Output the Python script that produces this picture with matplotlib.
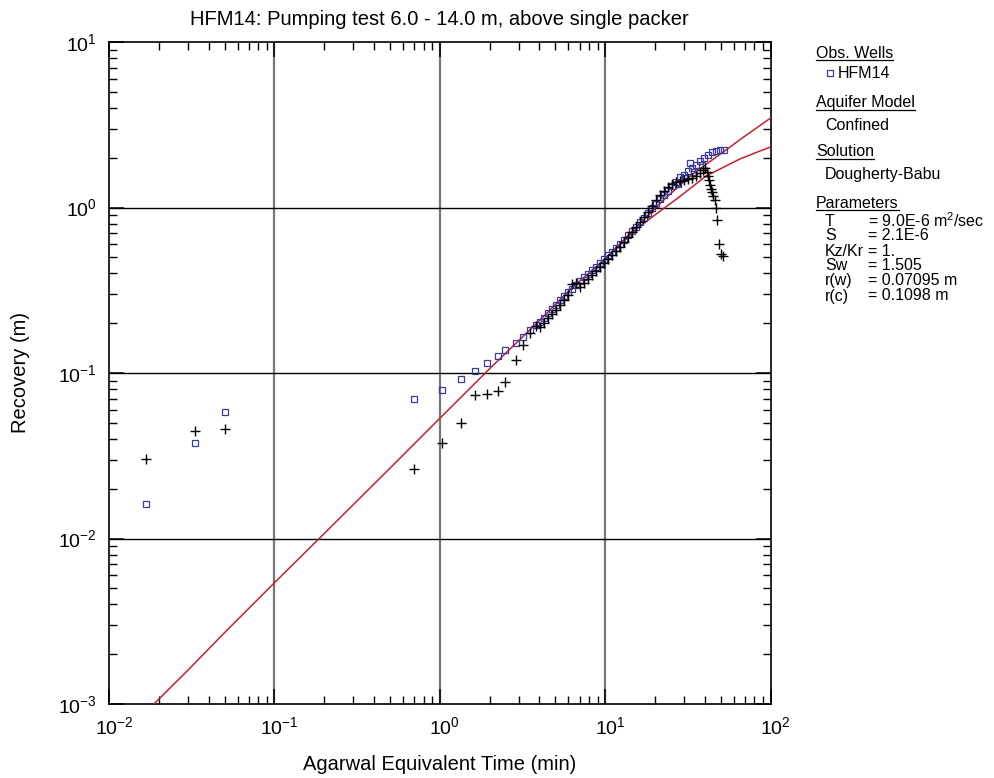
import matplotlib
matplotlib.use("Agg")
import matplotlib.pyplot as plt
from matplotlib.lines import Line2D
import matplotlib.transforms as mtransforms

plt.rcParams['font.family'] = ['Liberation Sans', 'DejaVu Sans']
plt.rcParams['mathtext.fontset'] = 'custom'
plt.rcParams['mathtext.rm'] = 'Liberation Sans'
plt.rcParams['mathtext.it'] = 'Liberation Sans:italic'
plt.rcParams['mathtext.bf'] = 'Liberation Sans:bold'

# observed recovery, HFM14 (squares)
sq_t = [0.0167, 0.0333, 0.05, 0.703, 1.03, 1.35, 1.63, 1.93, 2.26, 2.49, 2.89, 3.20, 3.53, 3.84,
        4.02, 4.25, 4.49, 4.75, 5.02, 5.31, 5.61, 5.93, 6.28, 6.63, 7.01, 7.42, 7.84, 8.29,
        8.76, 9.26, 9.79, 10.35, 10.95, 11.57, 12.24, 12.94, 13.68, 14.46, 15.29, 16.16,
        17.08, 18.06, 19.10, 20.19, 21.35, 22.57, 23.86, 25.22, 26.67, 28.20, 29.81, 31.52,
        33.32, 35.23, 37.24, 39.38, 41.63, 44.01, 46.54, 49.19, 52.0,
        27.4, 30.6, 32.4, 34.3, 38.3]
sq_s = [0.0162, 0.0376, 0.0581, 0.0693, 0.0793, 0.0924, 0.1028, 0.1153, 0.1267, 0.137, 0.152, 0.166, 0.182, 0.196,
        0.203, 0.215, 0.231, 0.244, 0.258, 0.276, 0.292, 0.309, 0.322, 0.340, 0.360, 0.380, 0.397, 0.419,
        0.437, 0.462, 0.489, 0.516, 0.538, 0.569, 0.602, 0.636, 0.682, 0.721, 0.762, 0.817,
        0.865, 0.927, 0.993, 1.05, 1.125, 1.19, 1.26, 1.35, 1.43, 1.53, 1.57, 1.66,
        1.73, 1.81, 1.91, 1.99, 2.08, 2.16, 2.19, 2.23, 2.23,
        1.39, 1.51, 1.86, 1.64, 1.81]

# recovery, second series (crosses)
cr_t = [0.0167, 0.0333, 0.05, 0.703, 1.03, 1.35, 1.63, 1.93, 2.26, 2.49, 2.89, 3.20, 3.53, 3.84,
        4.02, 4.25, 4.49, 4.75, 5.02, 5.31, 5.61, 5.93, 6.28, 6.63, 7.01, 7.42, 7.84, 8.29,
        8.76, 9.26, 9.79, 10.35, 10.95, 11.57, 12.24, 12.94, 13.68, 14.46, 15.29, 16.16,
        17.08, 18.06, 19.10, 20.19, 21.35, 22.57, 23.86, 25.22, 26.67, 28.20, 29.81, 31.52,
        33.32, 35.23, 37.24, 38.8, 39.9, 41.1, 41.6, 42.2, 42.8, 43.4, 44.0, 44.6, 45.9,
        46.5, 47.2, 48.5, 49.9, 51.3]
cr_s = [0.0303, 0.0448, 0.0461, 0.0262, 0.0376, 0.0497, 0.0736, 0.0747, 0.078, 0.0879, 0.12, 0.148, 0.175, 0.192,
        0.190, 0.200, 0.215, 0.227, 0.240, 0.258, 0.276, 0.296, 0.345, 0.350, 0.331, 0.350, 0.370, 0.391,
        0.413, 0.437, 0.462, 0.489, 0.516, 0.546, 0.577, 0.619, 0.663, 0.711, 0.762, 0.817,
        0.877, 0.940, 1.02, 1.11, 1.19, 1.26, 1.33, 1.39, 1.43, 1.45, 1.47, 1.49,
        1.51, 1.55, 1.62, 1.69, 1.73, 1.64, 1.55, 1.47, 1.37, 1.29, 1.24, 1.17, 1.11,
        0.993, 0.840, 0.602, 0.524, 0.509]

# Dougherty-Babu type curves
fit_t = [0.017, 0.03, 0.05, 0.1, 0.2, 0.5, 1.0, 2.0, 4.0, 6.25, 10.0, 16.0, 23.0, 34.0, 54.0, 65.0, 100.0]
fit_s = [0.00091, 0.0016, 0.0027, 0.0054, 0.0107, 0.0266, 0.0532, 0.106, 0.207, 0.325, 0.49, 0.79, 1.13, 1.6, 2.23, 2.56, 3.47]
fit2_t = [10.0, 16.1, 21.3, 28.2, 40.8, 65.0, 84.9, 100.0]
fit2_s = [0.49, 0.766, 0.944, 1.162, 1.55, 1.96, 2.18, 2.32]

par_names = ['T', 'S', 'Kz/Kr', 'Sw', 'r(w)', 'r(c)']
par_vals = ['= 9.0E-6 m$^2$/sec', '= 2.1E-6', '= 1.', '= 1.505', '= 0.07095 m', '= 0.1098 m']

W, H = 995, 778
fig = plt.figure(figsize=(W / 100, H / 100), dpi=100)
ax = fig.add_axes([109 / W, 1 - 704 / H, (770.5 - 109) / W, (704 - 42) / H])
ax.set_xscale('log')
ax.set_yscale('log')
ax.set_xlim(1e-2, 1e2)
ax.set_ylim(1e-3, 1e1)

for v in [1e-1, 1e0, 1e1]:
    ax.axvline(v, color='#777777', lw=1.6, zorder=1)
for v in [1e-2, 1e-1, 1e0]:
    ax.axhline(v, color='black', lw=1.0, zorder=1)

red = '#c8202c'
ax.plot(fit_t, fit_s, color=red, lw=1.1, zorder=3)
ax.plot(fit2_t, fit2_s, color=red, lw=1.1, zorder=3)
ax.plot(sq_t, sq_s, ls='none', marker='s', ms=4.5, mfc='none', mec='#3b3b9e', mew=0.9, zorder=4)
ax.plot(cr_t, cr_s, ls='none', marker='+', ms=7, color='black', mew=1.0, zorder=5)

for sp in ax.spines.values():
    sp.set_linewidth(1.2)
ax.tick_params(which='both', direction='in', top=True, right=True, labelsize=14)
ax.tick_params(which='major', length=11, width=1.1)
ax.tick_params(which='minor', length=6, width=1.0)
ax.tick_params(axis='x', which='major', pad=9)
ax.tick_params(axis='y', which='major', pad=9)

shift = mtransforms.ScaledTranslation(5 / 100, 0, fig.dpi_scale_trans)
for lab in ax.get_xticklabels():
    lab.set_transform(lab.get_transform() + shift)

ax.set_title('HFM14: Pumping test 6.0 - 14.0 m, above single packer', fontsize=14.5, pad=12)
ax.set_xlabel('Agarwal Equivalent Time (min)', fontsize=14.5, labelpad=12)
ax.set_ylabel('Recovery (m)', fontsize=14.5, labelpad=20)

# info panel on the right
fs = 11.5
heads = []
def ftxt(x, y, s, **kw):
    return fig.text(x / W, 1 - y / H, s, fontsize=fs, va='center', ha='left', **kw)

heads.append(ftxt(816, 53, 'Obs. Wells'))
fig.add_artist(Line2D([830 / W], [1 - 73 / H], marker='s', ms=4, mfc='none', mec='#3b3b9e', mew=0.9,
                      transform=fig.transFigure))
ftxt(838, 73, 'HFM14')
heads.append(ftxt(816, 103, 'Aquifer Model'))
ftxt(825, 125, 'Confined')
heads.append(ftxt(816, 152, 'Solution'))
ftxt(825, 175, 'Dougherty-Babu')
heads.append(ftxt(816, 203, 'Parameters'))

fig.canvas.draw()
r = fig.canvas.get_renderer()
probe = ftxt(825, 300, 'Kz/Kr ')
eq_x = 825 + probe.get_window_extent(r).width
probe.remove()
for i, (n, v) in enumerate(zip(par_names, par_vals)):
    y = 221 + i * 15
    ftxt(825, y, n)
    ftxt(eq_x, y, v)

for t in heads:
    bb = t.get_window_extent(r)
    yy = bb.y0 + 0.5
    fig.add_artist(Line2D([bb.x0 / W, bb.x1 / W], [yy / H, yy / H], color='black', lw=0.9,
                          transform=fig.transFigure))

fig.savefig('out.png', dpi=100)
